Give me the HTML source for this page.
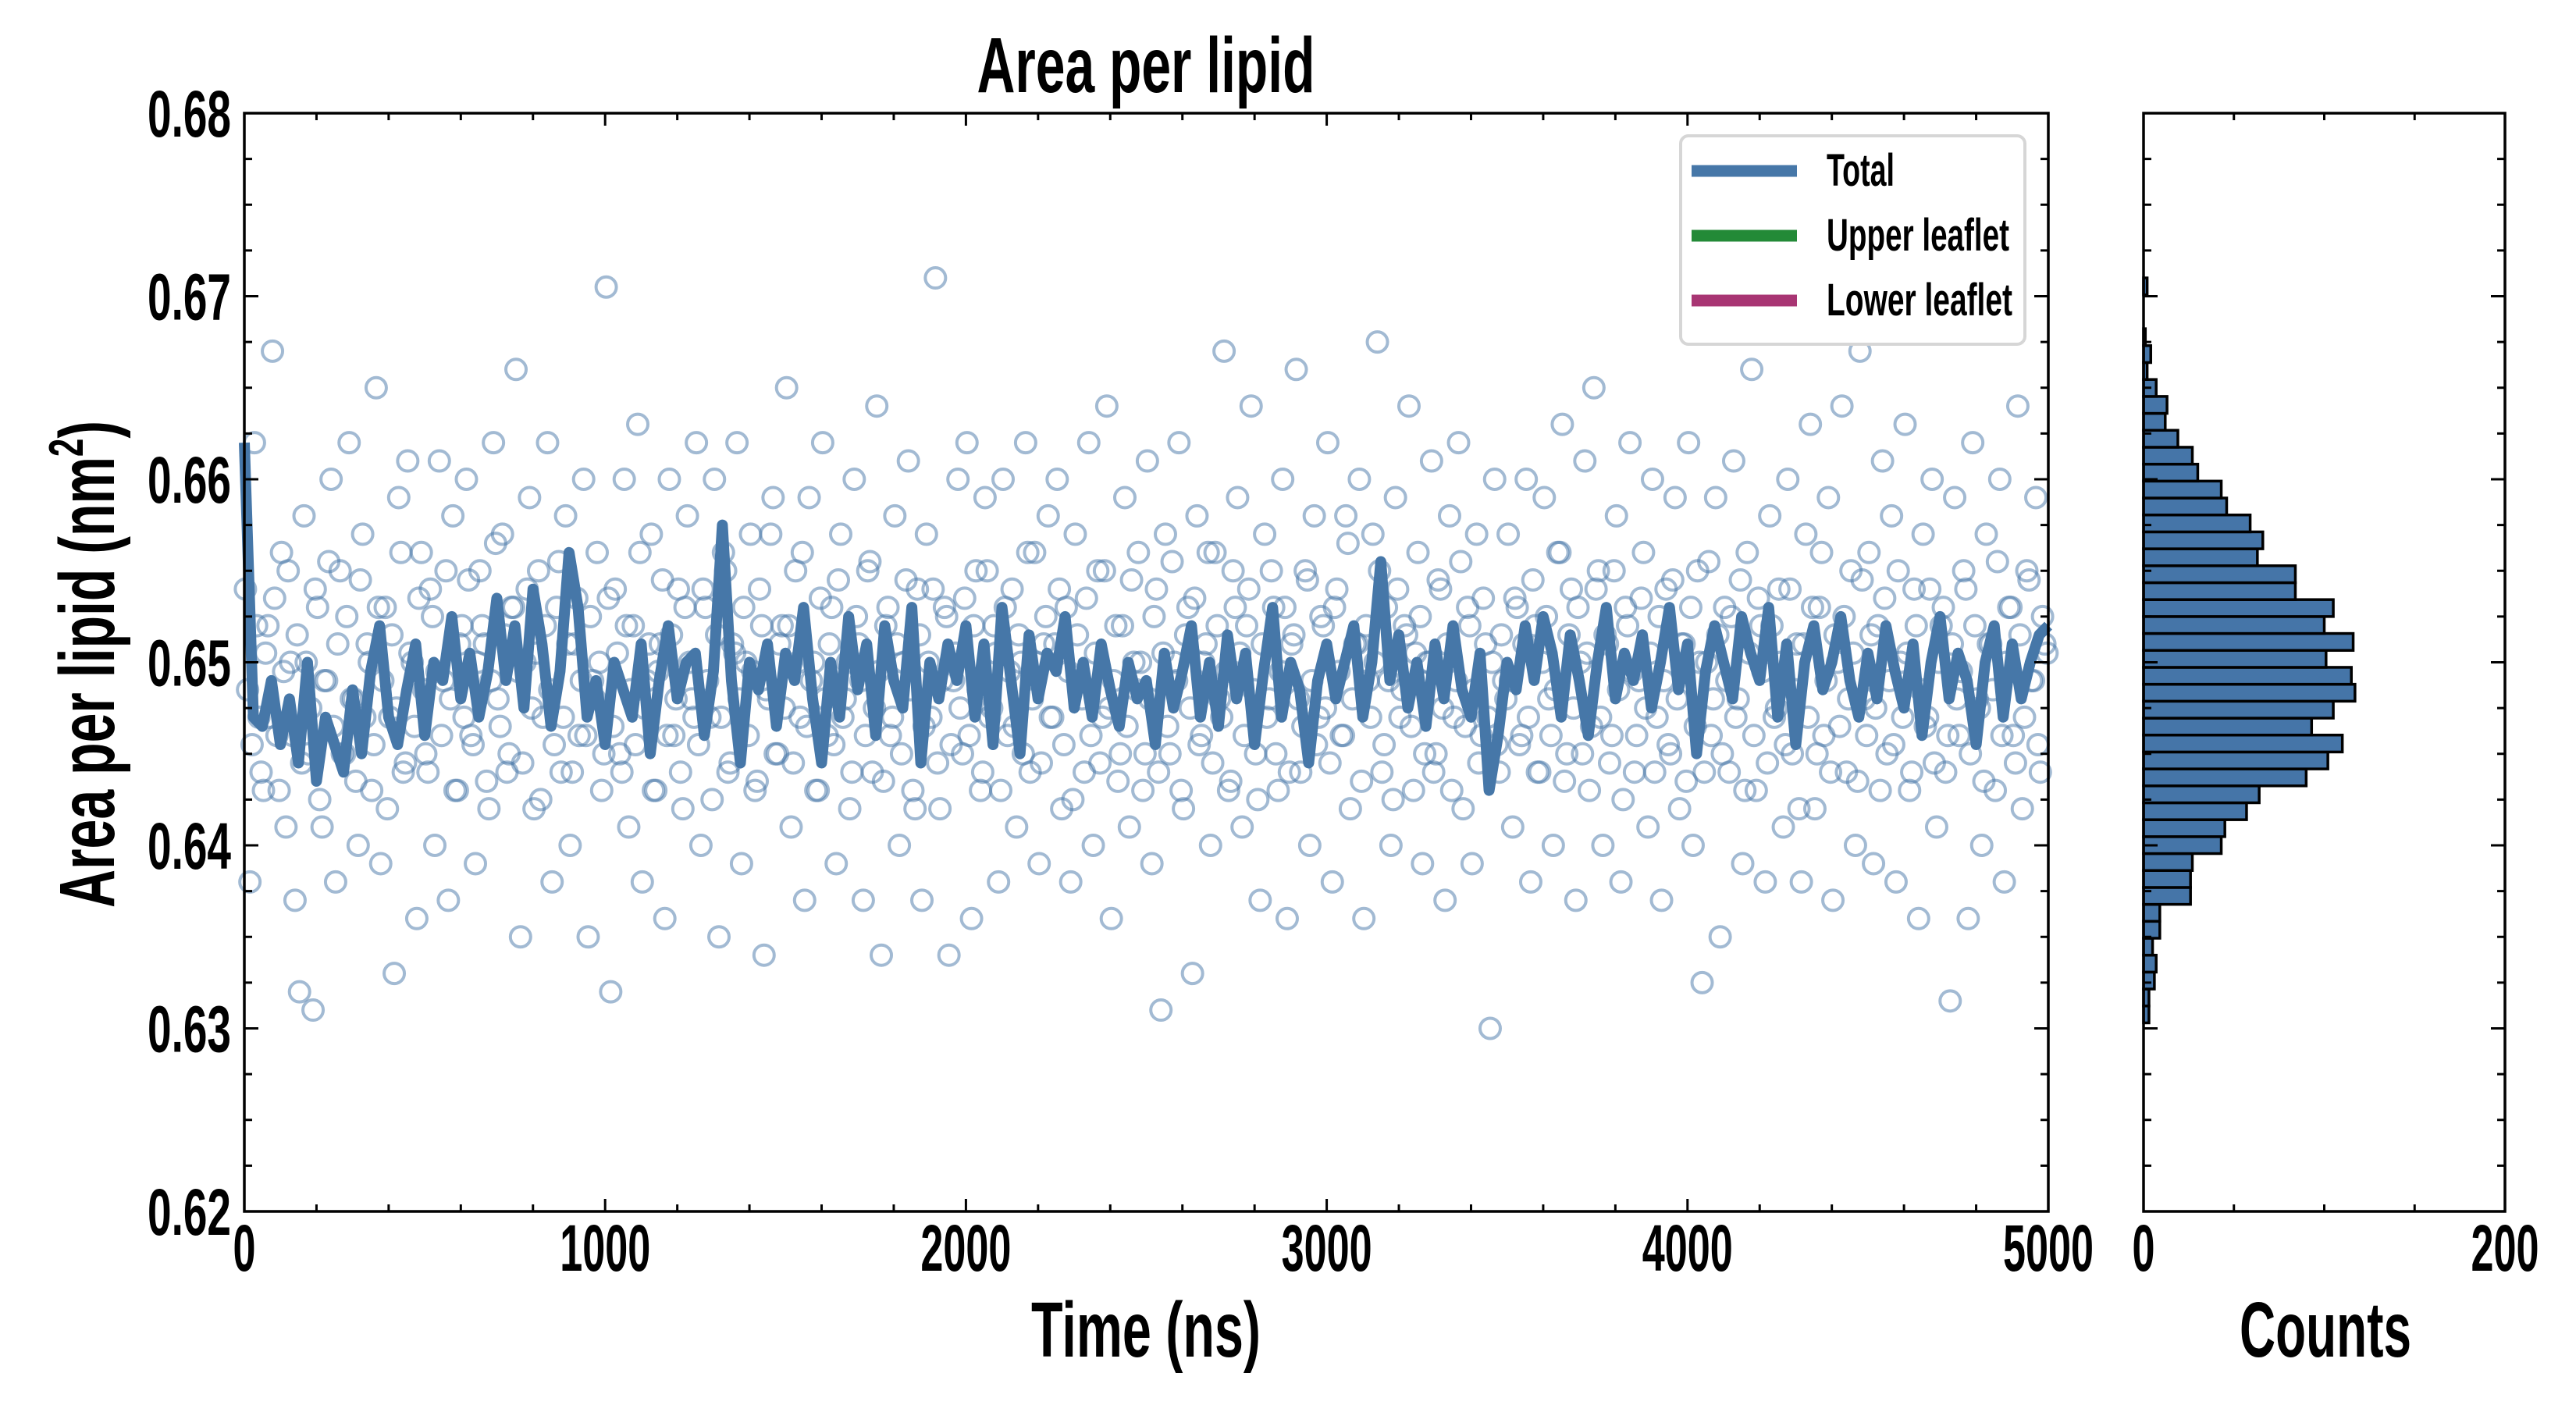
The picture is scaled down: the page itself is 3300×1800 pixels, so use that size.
<!DOCTYPE html>
<html><head><meta charset="utf-8"><style>
html,body{margin:0;padding:0;background:#fff}
svg{display:block}
text{font-family:"Liberation Sans Narrow","Liberation Sans",sans-serif;font-weight:bold;fill:#000}
</style></head><body>
<svg id="chart" width="3300" height="1800" viewBox="0 0 3300 1800" xmlns="http://www.w3.org/2000/svg">
<rect width="3300" height="1800" fill="#fff"/>
<g id="scatterG"></g>
<g id="lineG"></g>
<g id="histG"></g>
<g id="axesG"></g>
<text x="1468" y="118" font-size="100" text-anchor="middle" textLength="433" lengthAdjust="spacingAndGlyphs">Area per lipid</text>
<text x="1468" y="1738" font-size="100" text-anchor="middle" textLength="294" lengthAdjust="spacingAndGlyphs">Time (ns)</text>
<text x="2979" y="1738" font-size="100" text-anchor="middle" textLength="220" lengthAdjust="spacingAndGlyphs">Counts</text>
<text transform="translate(146,851) rotate(-90)" x="0" y="0" font-size="100" text-anchor="middle" textLength="624" lengthAdjust="spacingAndGlyphs">Area per lipid (nm<tspan font-size="62" dy="-40">2</tspan><tspan dy="40">)</tspan></text>
<g>
<rect x="2153" y="174" width="441" height="267" rx="10" fill="#fff" stroke="#d6d6d6" stroke-width="4"/>
<line x1="2167" y1="219" x2="2302" y2="219" stroke="#4677a8" stroke-width="15"/>
<text x="2340" y="238" font-size="58" textLength="87" lengthAdjust="spacingAndGlyphs">Total</text>
<line x1="2167" y1="302" x2="2302" y2="302" stroke="#238a37" stroke-width="15"/>
<text x="2340" y="321" font-size="58" textLength="234" lengthAdjust="spacingAndGlyphs">Upper leaflet</text>
<line x1="2167" y1="385" x2="2302" y2="385" stroke="#a83573" stroke-width="15"/>
<text x="2340" y="404" font-size="58" textLength="238" lengthAdjust="spacingAndGlyphs">Lower leaflet</text>
</g>
</svg>
<script>
const lineStep = 25;
const lineValues = [0.662,0.6470,0.6465,0.6490,0.6455,0.6480,0.6445,0.6500,0.6435,0.6470,0.6455,0.6440,0.6485,0.6450,0.6495,0.6520,0.6470,0.6455,0.6485,0.6510,
0.6460,0.6500,0.6490,0.6525,0.6480,0.6505,0.6470,0.6495,0.6535,0.6490,0.6520,0.6475,0.6540,0.6510,0.6465,0.6495,0.6560,0.6530,0.6470,0.6490,
0.6455,0.6500,0.6485,0.6470,0.6510,0.6450,0.6490,0.6520,0.6480,0.6500,0.6505,0.6460,0.6495,0.6575,0.6490,0.6445,0.6500,0.6485,0.6510,0.6465,
0.6505,0.6490,0.6530,0.6480,0.6445,0.6500,0.6470,0.6525,0.6485,0.6510,0.6460,0.6520,0.6490,0.6475,0.6530,0.6445,0.6500,0.6480,0.6510,0.6490,
0.6520,0.6470,0.6510,0.6455,0.6530,0.6490,0.6450,0.6515,0.6480,0.6505,0.6495,0.6525,0.6475,0.6500,0.6470,0.6510,0.6485,0.6465,0.6500,0.6480,
0.6490,0.6455,0.6505,0.6475,0.6495,0.6520,0.6470,0.6500,0.6465,0.6515,0.6480,0.6505,0.6455,0.6495,0.6530,0.6470,0.6500,0.6485,0.6445,0.6490,
0.6510,0.6480,0.6500,0.6520,0.6470,0.6500,0.6555,0.6490,0.6515,0.6475,0.6500,0.6465,0.6510,0.6480,0.6520,0.6485,0.6470,0.6505,0.6430,0.6460,
0.6500,0.6485,0.6520,0.6490,0.6525,0.6505,0.6470,0.6515,0.6490,0.6460,0.6500,0.6530,0.6480,0.6505,0.6490,0.6515,0.6475,0.6500,0.6530,0.6485,
0.6510,0.6450,0.6495,0.6520,0.6500,0.6480,0.6525,0.6505,0.6490,0.6530,0.6470,0.6510,0.6455,0.6500,0.6520,0.6485,0.6500,0.6525,0.6490,0.6470,
0.6505,0.6480,0.6520,0.6495,0.6475,0.6510,0.6460,0.6500,0.6525,0.6480,0.6505,0.6490,0.6455,0.6500,0.6520,0.6470,0.6510,0.6480,0.6500,0.6515,0.6520];
const scatterStep = 12.5;
const scatterValues = [.6540,.6380,.6620,.6470,.6430,.6520,.6670,.6460,.6560,.6410,.6500,.6370,.6320,.6580,.6450,.6310,.6530,.6410,.6490,.6600,
.6380,.6550,.6450,.6620,.6480,.6400,.6570,.6510,.6430,.6650,.6390,.6530,.6470,.6330,.6590,.6440,.6610,.6500,.6360,.6560,
.6450,.6540,.6400,.6610,.6490,.6370,.6580,.6430,.6520,.6600,.6460,.6390,.6550,.6510,.6420,.6620,.6480,.6570,.6440,.6530,
.6660,.6350,.6500,.6590,.6420,.6550,.6470,.6620,.6380,.6530,.6440,.6580,.6400,.6510,.6460,.6600,.6350,.6490,.6560,.6430,
.6705,.6320,.6540,.6450,.6600,.6410,.6520,.6630,.6380,.6490,.6570,.6430,.6510,.6360,.6600,.6460,.6540,.6420,.6580,.6480,
.6620,.6400,.6530,.6470,.6600,.6350,.6560,.6440,.6510,.6620,.6390,.6500,.6570,.6430,.6540,.6340,.6480,.6590,.6450,.6520,
.6650,.6410,.6550,.6470,.6370,.6590,.6500,.6430,.6620,.6460,.6530,.6390,.6570,.6480,.6420,.6600,.6510,.6370,.6550,.6440,
.6640,.6340,.6520,.6460,.6580,.6400,.6500,.6610,.6430,.6540,.6370,.6570,.6470,.6710,.6420,.6530,.6340,.6490,.6600,.6450,
.6620,.6360,.6550,.6430,.6590,.6470,.6520,.6380,.6600,.6460,.6540,.6410,.6500,.6620,.6440,.6560,.6390,.6510,.6580,.6470,
.6600,.6420,.6530,.6380,.6570,.6490,.6440,.6620,.6400,.6550,.6470,.6640,.6360,.6520,.6450,.6590,.6410,.6500,.6560,.6430,
.6610,.6390,.6540,.6310,.6570,.6450,.6500,.6620,.6420,.6530,.6330,.6580,.6460,.6510,.6400,.6560,.6480,.6670,.6430,.6550,
.6590,.6410,.6520,.6640,.6450,.6370,.6570,.6480,.6530,.6430,.6600,.6360,.6510,.6660,.6440,.6550,.6400,.6580,.6470,.6520,
.6620,.6380,.6540,.6460,.6580,.6420,.6510,.6600,.6360,.6490,.6570,.6675,.6440,.6530,.6400,.6590,.6470,.6520,.6640,.6430,
.6560,.6390,.6500,.6610,.6450,.6540,.6370,.6580,.6470,.6620,.6420,.6530,.6390,.6570,.6460,.6510,.6300,.6600,.6440,.6490,
.6570,.6410,.6530,.6460,.6600,.6380,.6520,.6440,.6590,.6480,.6400,.6560,.6630,.6450,.6540,.6370,.6500,.6610,.6430,.6650,
.6550,.6400,.6510,.6460,.6580,.6380,.6530,.6620,.6440,.6490,.6560,.6410,.6600,.6470,.6370,.6540,.6450,.6590,.6420,.6510,
.6620,.6400,.6550,.6325,.6500,.6460,.6590,.6350,.6530,.6440,.6610,.6480,.6390,.6560,.6660,.6430,.6520,.6380,.6580,.6470,
.6540,.6410,.6600,.6450,.6510,.6380,.6570,.6630,.6420,.6530,.6460,.6590,.6370,.6500,.6640,.6440,.6550,.6400,.6670,.6480,
.6560,.6390,.6520,.6610,.6450,.6580,.6380,.6500,.6630,.6430,.6540,.6360,.6570,.6470,.6600,.6410,.6520,.6440,.6315,.6590,
.6460,.6550,.6360,.6620,.6480,.6400,.6570,.6510,.6430,.6600,.6380,.6530,.6460,.6640,.6420,.6550,.6490,.6590,.6440,.6510];
const scatterValues2 = [.6485,.6455,.6520,.6440,.6505,.6470,.6535,.6430,.6495,.6550,.6460,.6515,.6445,.6500,.6475,.6540,.6425,.6490,.6555,.6465,
.6510,.6450,.6525,.6480,.6435,.6545,.6470,.6500,.6455,.6530,.6490,.6420,.6515,.6475,.6560,.6445,.6505,.6465,.6535,.6485,
.6440,.6525,.6495,.6460,.6550,.6480,.6430,.6510,.6470,.6545,.6455,.6500,.6520,.6435,.6490,.6565,.6465,.6515,.6450,.6530,
.6495,.6445,.6540,.6475,.6505,.6425,.6520,.6485,.6455,.6555,.6470,.6510,.6440,.6535,.6490,.6460,.6525,.6480,.6500,.6450,
.6535,.6465,.6505,.6440,.6520,.6485,.6455,.6560,.6475,.6510,.6430,.6495,.6545,.6460,.6515,.6480,.6440,.6530,.6500,.6470,
.6455,.6540,.6490,.6425,.6515,.6470,.6550,.6445,.6505,.6480,.6530,.6460,.6495,.6435,.6520,.6485,.6570,.6450,.6510,.6475,
.6520,.6445,.6500,.6560,.6465,.6490,.6430,.6535,.6480,.6510,.6455,.6545,.6470,.6500,.6440,.6525,.6490,.6460,.6555,.6475,
.6495,.6435,.6530,.6470,.6510,.6450,.6545,.6485,.6420,.6515,.6465,.6500,.6540,.6445,.6490,.6525,.6455,.6505,.6475,.6535,
.6460,.6520,.6485,.6440,.6550,.6475,.6505,.6430,.6530,.6495,.6465,.6515,.6450,.6560,.6480,.6500,.6445,.6525,.6470,.6510,
.6540,.6455,.6495,.6425,.6515,.6480,.6535,.6460,.6505,.6445,.6550,.6475,.6490,.6435,.6520,.6465,.6545,.6485,.6500,.6450,
.6480,.6525,.6440,.6505,.6465,.6555,.6490,.6430,.6515,.6475,.6535,.6455,.6500,.6560,.6445,.6520,.6470,.6495,.6435,.6530,
.6505,.6460,.6540,.6485,.6425,.6510,.6470,.6550,.6450,.6495,.6530,.6440,.6515,.6480,.6465,.6545,.6490,.6455,.6525,.6475,
.6445,.6530,.6495,.6460,.6565,.6480,.6510,.6435,.6520,.6470,.6500,.6550,.6455,.6490,.6425,.6540,.6485,.6515,.6465,.6505,
.6525,.6450,.6500,.6440,.6545,.6475,.6510,.6430,.6490,.6555,.6465,.6520,.6485,.6445,.6535,.6470,.6500,.6455,.6515,.6480,
.6490,.6535,.6455,.6510,.6470,.6545,.6440,.6500,.6525,.6460,.6485,.6560,.6435,.6515,.6475,.6530,.6450,.6505,.6465,.6540,
.6470,.6515,.6445,.6550,.6485,.6425,.6520,.6495,.6460,.6535,.6475,.6505,.6440,.6525,.6490,.6455,.6545,.6480,.6510,.6435,
.6530,.6465,.6500,.6440,.6555,.6480,.6515,.6450,.6490,.6525,.6470,.6545,.6430,.6505,.6460,.6535,.6495,.6445,.6520,.6475,
.6500,.6455,.6540,.6485,.6420,.6510,.6470,.6530,.6450,.6560,.6490,.6440,.6515,.6465,.6525,.6480,.6505,.6435,.6545,.6460,
.6515,.6475,.6430,.6535,.6490,.6455,.6550,.6470,.6505,.6440,.6520,.6485,.6465,.6540,.6445,.6500,.6530,.6460,.6510,.6480,
.6495,.6540,.6450,.6520,.6475,.6435,.6510,.6485,.6555,.6460,.6500,.6530,.6445,.6515,.6470,.6545,.6490,.6455,.6525,.6505];
const histStart = 0.6303;
const histBinWidth = 0.000925;
const histCounts = [3,3,6,7,5,9,9,26,26,27,43,45,57,64,90,102,110,93,105,117,115,101,116,100,105,84,84,63,66,59,46,43,30,27,19,12,13,7,2,4,1,0,0,2];
const xTicks = [0,1000,2000,3000,4000,5000];
const yTicks = [0.62,0.63,0.64,0.65,0.66,0.67,0.68];
const histTicks = [0,200];

const NS='http://www.w3.org/2000/svg';
const L=313,R=2624,T=145,B=1552,HL=2746,HR=3209;
const xS=t=>L+(t/5000)*(R-L);
const yS=v=>B-((v-0.62)/0.06)*(B-T);
const hS=c=>HL+(c/200)*(HR-HL);
function mk(tag,attrs,parent){const e=document.createElementNS(NS,tag);for(const k in attrs)e.setAttribute(k,attrs[k]);parent.appendChild(e);return e;}

const sg=document.getElementById('scatterG');
scatterValues.forEach((v,i)=>{
  const c=mk('circle',{cx:xS(i*scatterStep+3),cy:yS(v),r:13,fill:'none',stroke:'#4575a8','stroke-opacity':0.5,'stroke-width':4},sg);
  
  
});
scatterValues2.forEach((v,i)=>{
  const c=mk('circle',{cx:xS(i*scatterStep+9),cy:yS(v),r:13,fill:'none',stroke:'#4575a8','stroke-opacity':0.5,'stroke-width':4},sg);
  
  
});
const lg=document.getElementById('lineG');
const pts=lineValues.map((v,i)=>xS(i*lineStep).toFixed(1)+','+yS(v).toFixed(1)).join(' ');
const pl=mk('polyline',{points:pts,fill:'none',stroke:'#4677a8','stroke-width':14,'stroke-linejoin':'round'},lg);



const hg=document.getElementById('histG');
histCounts.forEach((c,i)=>{
  if(c<=0)return;
  const y0=yS(histStart+i*histBinWidth), y1=yS(histStart+(i+1)*histBinWidth);
  const r=mk('rect',{x:HL,y:y1,width:hS(c)-HL,height:y0-y1,fill:'#4575a8',stroke:'#000','stroke-width':3.5},hg);
  
  
});

const ag=document.getElementById('axesG');
function frame(x0,x1,name){const f=mk('rect',{x:x0,y:T,width:x1-x0,height:B-T,fill:'none',stroke:'#000','stroke-width':3.5},ag);

}
frame(L,R,'main-plot-frame');frame(HL,HR,'histogram-frame');
function tk(x1,y1,x2,y2){mk('line',{x1,y1,x2,y2,stroke:'#000','stroke-width':3},ag);}
for(let t=0;t<=5000;t+=200){const x=xS(t),len=(t%1000===0)?16:9;tk(x,B,x,B-len);tk(x,T,x,T+len);}
for(let c=0;c<=200;c+=50){const x=hS(c),len=(c%200===0)?16:9;tk(x,B,x,B-len);tk(x,T,x,T+len);}
for(let k=0;k<=24;k++){const v=0.62+k*0.0025,y=yS(v),len=(k%4===0)?18:10;tk(L,y,L+len,y);tk(R,y,R-len,y);tk(HL,y,HL+len,y);tk(HR,y,HR-len,y);}
function lab(str,x,y,anchor){const w=[...str].reduce((s,ch)=>s+(ch==='.'?20:29),0);
const t=mk('text',{x,y,'font-size':84,'text-anchor':anchor,textLength:w,lengthAdjust:'spacingAndGlyphs'},ag);t.textContent=str;return t;}
xTicks.forEach(t=>{const e=lab(String(t),xS(t),1628,'middle');

});
yTicks.forEach(v=>{const e=lab(v.toFixed(2),296,yS(v)+30,'end');

});
histTicks.forEach(c=>{const e=lab(String(c),hS(c),1628,'middle');

});
</script>
</body></html>
